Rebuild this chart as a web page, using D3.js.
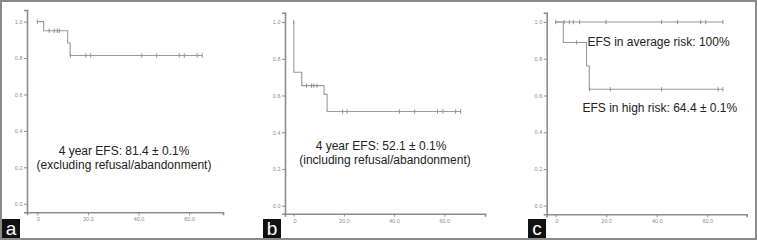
<!DOCTYPE html>
<html>
<head>
<meta charset="utf-8">
<script src="https://cdn.jsdelivr.net/npm/d3@7"></script>
<style>
  body { margin: 0; background: #fff; }
  svg { display: block; }
</style>
</head>
<body>
<div id="viz"></div>
<script>
// tick values / labels shared by the three panels
var timeTicks = [0, 20, 40, 60];
var timeTickLabels = [".0", "20.0", "40.0", "60.0"];
var survTicks = [0, 0.2, 0.4, 0.6, 0.8, 1.0];
var survTickLabels = ["0.0", "0.2", "0.4", "0.6", "0.8", "1.0"];

// panel a - excluding refusal/abandonment
var aEventTimes = [0, 2.5, 12, 13];
var aEventSurv = [1, 0.95, 0.883, 0.814];
var aEnd = 65.2;
var aCensor = [0, 4.7, 6.7, 7.9, 8.7, 13.1, 19.2, 21.1, 41.3, 47.2, 56.1, 58.1, 63.2, 65.2];

// panel b - including refusal/abandonment
var bEventTimes = [0, 0.05, 3.2, 12.1, 13.3];
var bEventSurv = [1, 0.727, 0.654, 0.606, 0.513];
var bEnd = 66.5;
var bCensor = [0, 5.1, 7.1, 8.0, 9.3, 19.5, 21.3, 42.1, 48.2, 57.3, 59.4, 64.5, 66.5];

// panel c - average risk vs high risk
var cAvgEventTimes = [0];
var cAvgEventSurv = [1];
var cAvgEnd = 66.2;
var cAvgCensor = [0, 3.4, 5.4, 7, 9.5, 19.9, 41.9, 48.2, 57.4, 59.4, 66.2];
var cHighEventTimes = [0, 3, 12.2, 13.3];
var cHighEventSurv = [1, 0.889, 0.761, 0.634];
var cHighEnd = 66.2;
var cHighCensor = [8.3, 13.4, 21.6, 41.9, 64.3, 66.2];

var width = 757, height = 240;

var svg = d3.select("#viz").append("svg")
    .attr("width", width)
    .attr("height", height);

svg.append("rect").attr("width", width).attr("height", height).attr("fill", "#fff");

// panel layout (pixels)
var panels = [
  { label: "a", x0: 27, x1: 223, xd: [-4.07, 73.4], yTop: 10, yBot: 212.3, yd: [-0.047, 1.064], labelX: 2,
    curves: [{ t: aEventTimes, s: aEventSurv, end: aEnd, censor: aCensor }],
    texts: [{ x: 124, y: 154.5, anchor: "middle", s: "4 year EFS: 81.4 \u00b1 0.1%" },
            { x: 124, y: 168.5, anchor: "middle", s: "(excluding refusal/abandonment)" }] },
  { label: "b", x0: 285, x1: 485, xd: [-3.47, 76.2], yTop: 12.7, yBot: 213.7, yd: [-0.0435, 1.051], labelX: 263,
    curves: [{ t: bEventTimes, s: bEventSurv, end: bEnd, censor: bCensor }],
    texts: [{ x: 381, y: 149.5, anchor: "middle", s: "4 year EFS: 52.1 \u00b1 0.1%" },
            { x: 385, y: 164, anchor: "middle", s: "(including refusal/abandonment)" }] },
  { label: "c", x0: 546.7, x1: 746.7, xd: [-3.56, 75.6], yTop: 12.7, yBot: 214.3, yd: [-0.047, 1.051], labelX: 528,
    curves: [{ t: cAvgEventTimes, s: cAvgEventSurv, end: cAvgEnd, censor: cAvgCensor },
             { t: cHighEventTimes, s: cHighEventSurv, end: cHighEnd, censor: cHighCensor }],
    texts: [{ x: 587.5, y: 46, anchor: "start", s: "EFS in average risk: 100%" },
            { x: 582.5, y: 111.5, anchor: "start", s: "EFS in high risk: 64.4 \u00b1 0.1%" }] }
];

// survival at time t (value after drops strictly before/at t)
function survAt(c, t) {
  var v = c.s[0];
  for (var i = 0; i < c.t.length; i++) {
    if (c.t[i] <= t) v = c.s[i];
  }
  return v;
}

panels.forEach(function(p) {
  var x = d3.scaleLinear().domain(p.xd).range([p.x0, p.x1]);
  var y = d3.scaleLinear().domain(p.yd).range([p.yBot, p.yTop]);
  var g = svg.append("g");

  //Axes
  var yAxis = d3.axisLeft(y).tickValues(survTicks)
      .tickFormat(function(d, i) { return survTickLabels[i]; })
      .tickSize(3).tickPadding(1.5);
  var xAxis = d3.axisBottom(x).tickValues(timeTicks)
      .tickFormat(function(d, i) { return timeTickLabels[i]; })
      .tickSize(3).tickPadding(2);

  var ya = g.append("g").attr("transform", "translate(" + p.x0 + ",0)").call(yAxis);
  var xa = g.append("g").attr("transform", "translate(0," + p.yBot + ")").call(xAxis);
  [ya, xa].forEach(function(a) {
    a.select(".domain").attr("stroke", "#8c8c8c").attr("stroke-width", 1.6);
    a.selectAll(".tick line").attr("stroke", "#8c8c8c").attr("stroke-width", 1);
    a.selectAll(".tick text").attr("fill", "#8a8a8a")
      .attr("font-family", "Liberation Sans, Arial, sans-serif").attr("font-size", "5.5px");
  });

  //Curves
  p.curves.forEach(function(c) {
    var pts = [];
    for (var i = 0; i < c.t.length; i++) pts.push([c.t[i], c.s[i]]);
    pts.push([c.end, c.s[c.s.length - 1]]);
    var line = d3.line().curve(d3.curveStepAfter)
      .x(function(d) { return x(d[0]); })
      .y(function(d) { return y(d[1]); });
    g.append("path").datum(pts).attr("d", line)
      .attr("fill", "none").attr("stroke", "#9a9a9a").attr("stroke-width", 1.1);

    g.selectAll(null).data(c.censor).enter().append("line")
      .attr("x1", function(d) { return x(d); })
      .attr("x2", function(d) { return x(d); })
      .attr("y1", function(d) { return y(survAt(c, d)) - 2.2; })
      .attr("y2", function(d) { return y(survAt(c, d)) + 2.2; })
      .attr("stroke", "#888").attr("stroke-width", 0.9);
  });

  //Annotation text
  g.selectAll(null).data(p.texts).enter().append("text")
    .attr("x", function(d) { return d.x; })
    .attr("y", function(d) { return d.y; })
    .attr("text-anchor", function(d) { return d.anchor; })
    .attr("font-family", "Liberation Sans, Arial, sans-serif")
    .attr("font-size", "12px")
    .attr("fill", "#222")
    .text(function(d) { return d.s; });

  //Panel label
  g.append("rect").attr("x", p.labelX).attr("y", 219).attr("width", 18).attr("height", 20).attr("fill", "#111");
  g.append("text").attr("x", p.labelX + 9).attr("y", 235)
    .attr("text-anchor", "middle")
    .attr("font-family", "Liberation Sans, Arial, sans-serif")
    .attr("font-size", "19px").attr("fill", "#fff")
    .text(p.label);
});

// outer frame
svg.append("rect").attr("x", 1).attr("y", 1).attr("width", width - 2).attr("height", height - 2)
  .attr("fill", "none").attr("stroke", "#8a8a8a").attr("stroke-width", 2);
</script>
</body>
</html>
